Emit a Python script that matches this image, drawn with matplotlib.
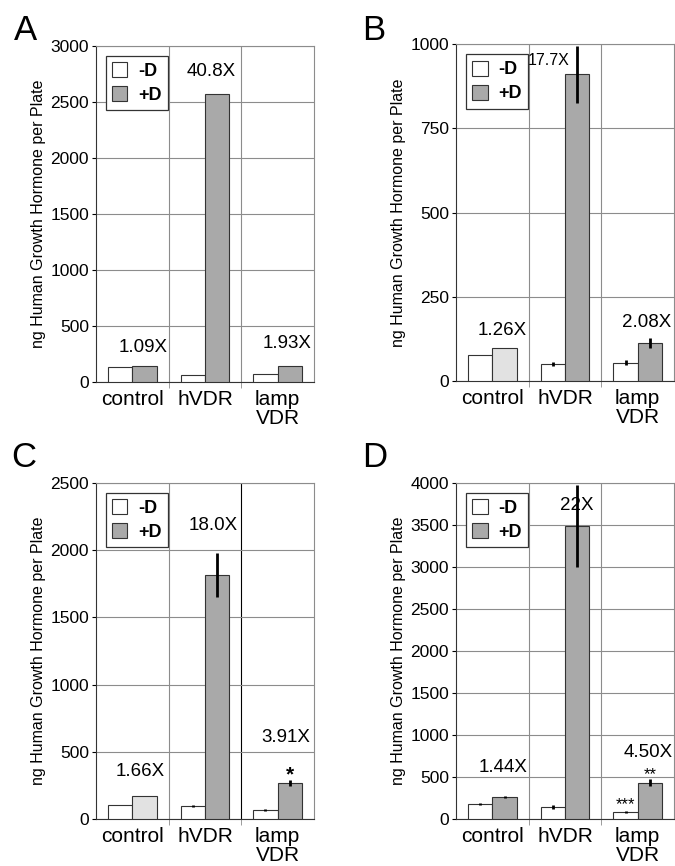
import matplotlib
matplotlib.use('Agg')
import matplotlib.pyplot as plt
from matplotlib.patches import Patch
import numpy as np

plt.rcParams['font.family'] = ['Liberation Sans', 'DejaVu Sans']

# 数据
categories = ['control', 'hVDR', 'lamp\nVDR']

a_minus = [135, 62, 75]
a_plus = [145, 2570, 140]
a_ratio = ['1.09X', '40.8X', '1.93X']

b_minus = [76, 52, 55]
b_minus_err = [0, 6, 7]
b_plus = [97, 911, 112]
b_plus_err = [0, 85, 15]
b_ratio = ['1.26X', '17.7X', '2.08X']

c_minus = [101, 99, 64]
c_minus_err = [0, 8, 8]
c_plus = [168, 1816, 267]
c_plus_err = [0, 165, 25]
c_ratio = ['1.66X', '18.0X', '3.91X']

d_minus = [180, 147, 88]
d_minus_err = [15, 25, 12]
d_plus = [260, 3490, 430]
d_plus_err = [15, 490, 40]
d_ratio = ['1.44X', '22X', '4.50X']

ylabel = 'ng Human Growth Hormone per Plate'
GRAY = '#a9a9a9'
LIGHT = '#e2e2e2'
GRID = '#8c8c8c'


def drawPanel(ax, minus, plus, ymax, ystep, minus_err=None, plus_err=None,
              control_light=False, black_div=False):
    x = np.arange(len(categories))
    w = 0.335
    plus_colors = [GRAY] * len(plus)
    if control_light:
        plus_colors[0] = LIGHT
    ax.bar(x - w / 2, minus, w, color='white', edgecolor='#333333',
           linewidth=0.8, zorder=3)
    ax.bar(x + w / 2, plus, w, color=plus_colors, edgecolor='#333333',
           linewidth=0.8, zorder=3)
    if minus_err is not None:
        ax.errorbar(x - w / 2, minus, yerr=minus_err, fmt='none',
                    ecolor='black', elinewidth=2, capsize=0, zorder=4)
    if plus_err is not None:
        ax.errorbar(x + w / 2, plus, yerr=plus_err, fmt='none',
                    ecolor='black', elinewidth=2, capsize=0, zorder=4)

    ax.set_xlim(-0.5, len(categories) - 0.5)
    ax.set_ylim(0, ymax)
    ax.set_yticks(np.arange(0, ymax + 1, ystep))
    ax.yaxis.grid(True, color=GRID, linewidth=0.8, zorder=0)
    for i, xv in enumerate([0.5, 1.5]):
        c = 'black' if (black_div and i == 1) else GRID
        ax.axvline(xv, color=c, linewidth=0.8, zorder=1)
    # 分隔处下方的短刻度
    ax.set_xticks([0.5, 1.5], minor=True)
    ax.tick_params(axis='x', which='minor', length=4, color=GRID)
    ax.set_xticks(x)
    ax.set_xticklabels(categories, fontsize=15, linespacing=0.95)
    ax.tick_params(axis='x', which='major', length=0, pad=6)
    ax.tick_params(axis='y', labelsize=12.5, length=3, direction='out',
                   pad=2)
    for s in ['top', 'right']:
        ax.spines[s].set_color(GRID)
        ax.spines[s].set_linewidth(0.8)
    ax.spines['left'].set_color('#333333')
    ax.spines['bottom'].set_color('#333333')
    ax.set_ylabel(ylabel, fontsize=11.5)
    ax.yaxis.set_label_coords(-0.23, 0.5)

    handles = [Patch(facecolor='white', edgecolor='#333333', linewidth=0.8),
               Patch(facecolor=GRAY, edgecolor='#333333', linewidth=0.8)]
    leg = ax.legend(handles, ['-D', '+D'], loc='upper left',
                    bbox_to_anchor=(0.045, 0.97), fancybox=False,
                    edgecolor='#333333', framealpha=1,
                    handlelength=0.85, handleheight=0.9, handletextpad=0.6,
                    borderpad=0.35, labelspacing=0.35, borderaxespad=0,
                    prop={'weight': 'bold', 'size': 13})
    leg.get_frame().set_linewidth(0.9)
    leg.set_zorder(5)


fig = plt.figure(figsize=(6.75, 8.66), dpi=100)
axA = fig.add_axes([0.1422, 0.5589, 0.323, 0.388])
axB = fig.add_axes([0.6756, 0.5600, 0.323, 0.389])
axC = fig.add_axes([0.1422, 0.0543, 0.323, 0.388])
axD = fig.add_axes([0.6756, 0.0543, 0.323, 0.388])

drawPanel(axA, a_minus, a_plus, 3000, 500)
drawPanel(axB, b_minus, b_plus, 1000, 250, b_minus_err, b_plus_err,
          control_light=True)
drawPanel(axC, c_minus, c_plus, 2500, 500, c_minus_err, c_plus_err,
          control_light=True, black_div=True)
drawPanel(axD, d_minus, d_plus, 4000, 500, d_minus_err, d_plus_err)

# 倍数标注
kw = dict(ha='center', va='center', fontsize=13.5, zorder=6)
axA.text(0.147, 312, a_ratio[0], **kw)
axA.text(1.083, 2768, a_ratio[1], **kw)
axA.text(2.128, 348, a_ratio[2], **kw)

axB.text(0.133, 151, b_ratio[0], **kw)
axB.text(0.78, 952, b_ratio[1], ha='center', va='center', fontsize=11.5,
         zorder=6)
axB.text(2.128, 175, b_ratio[2], **kw)

axC.text(0.106, 352, c_ratio[0], **kw)
axC.text(1.110, 2182, c_ratio[1], **kw)
axC.text(2.115, 603, c_ratio[2], **kw)
axC.text(2.17, 330, '*', ha='center', va='center', fontsize=15,
         fontweight='bold', zorder=6)

axD.text(0.147, 611, d_ratio[0], **kw)
axD.text(1.16, 3730, d_ratio[1], **kw)
axD.text(2.142, 786, d_ratio[2], **kw)
axD.text(2.17, 530, '**', ha='center', va='center', fontsize=12, zorder=6)
axD.text(1.83, 175, '***', ha='center', va='center', fontsize=12, zorder=6)

# 面板字母
fig.text(14 / 675, 1 - 40 / 866, 'A', fontsize=25, va='baseline')
fig.text(362 / 675, 1 - 40 / 866, 'B', fontsize=25, va='baseline')
fig.text(11 / 675, 1 - 467 / 866, 'C', fontsize=25, va='baseline')
fig.text(362 / 675, 1 - 467 / 866, 'D', fontsize=25, va='baseline')

plt.savefig('out.png', dpi=100)
